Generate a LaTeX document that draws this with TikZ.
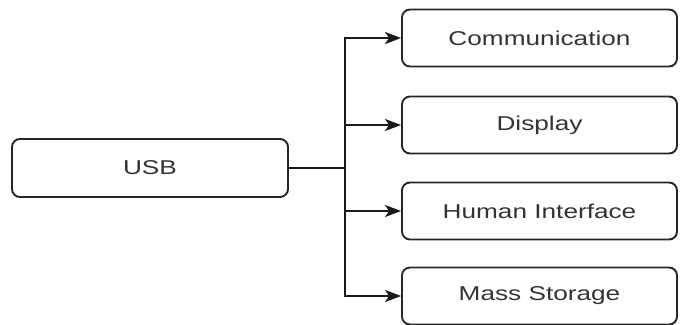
\documentclass[tikz,border=0pt]{standalone}
\usepackage{fontspec}
\setmainfont{Liberation Sans}
\usetikzlibrary{arrows.meta}
\definecolor{txt}{HTML}{333333}
\tikzset{
  box/.style={draw=black!85, line width=1.9pt, rounded corners=8pt, minimum width=275pt, minimum height=57pt, inner sep=0pt, text=txt, font=\fontsize{20}{23}\selectfont},
  conn/.style={draw=black!90, line width=1.9pt},
  arr/.style={conn, -{Stealth[length=16pt, width=12pt, inset=4pt]}}
}
\newcommand{\wtxt}[1]{\scalebox{1.31}[1]{#1}}
\begin{document}
\begin{tikzpicture}[x=1pt,y=1pt]
\useasboundingbox (0,0) rectangle (684,324);
\node[box, minimum width=276pt, minimum height=58pt] (usb) at (150,156) {\wtxt{USB}};
\node[box] (comm) at (539.5,286) {\wtxt{Communication}};
\node[box] (disp) at (539.5,199) {\wtxt{Display}};
\node[box] (hid) at (539.5,113) {\wtxt{Human Interface}};
\node[box] (mass) at (539.5,28) {\wtxt{Mass Storage}};
\coordinate (j) at (345,156);
\draw[conn] (usb.east) -- (j);
\draw[arr] (j) |- (comm.west);
\draw[arr] (j) |- (disp.west);
\draw[arr] (j) |- (hid.west);
\draw[arr] (j) |- (mass.west);
\end{tikzpicture}
\end{document}
